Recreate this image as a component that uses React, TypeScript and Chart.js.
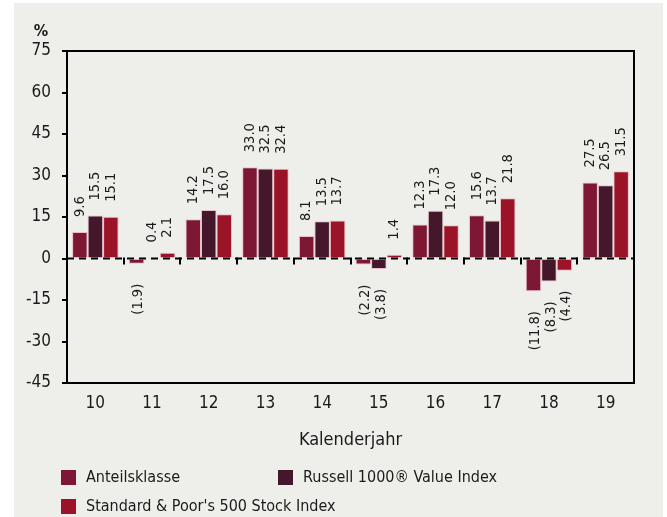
import React, { useEffect, useRef } from "react";
import { Chart, registerables } from "chart.js";

Chart.register(...registerables);

const categories = ["10", "11", "12", "13", "14", "15", "16", "17", "18", "19"];
const anteilsklasse = [9.6, -1.9, 14.2, 33.0, 8.1, -2.2, 12.3, 15.6, -11.8, 27.5];
const russell1000Value = [15.5, 0.4, 17.5, 32.5, 13.5, -3.8, 17.3, 13.7, -8.3, 26.5];
const sp500 = [15.1, 2.1, 16.0, 32.4, 13.7, 1.4, 12.0, 21.8, -4.4, 31.5];
const seriesNames = ["Anteilsklasse", "Russell 1000® Value Index", "Standard & Poor's 500 Stock Index"];
const seriesColors = ["#7D1733", "#45172B", "#9B1327"];
const yMin = -45;
const yMax = 75;
const yStep = 15;
const yUnit = "%";
const xTitle = "Kalenderjahr";

const FONT = "'Liberation Sans Narrow', 'Arial Narrow', 'DejaVu Sans Condensed', sans-serif";
const TEXT = "#1a1a1a";

const fmt = (v: number) => (v < 0 ? `(${Math.abs(v).toFixed(1)})` : v.toFixed(1));

const decorPlugin = {
  id: "decor",
  beforeDraw(chart: any) {
    const { ctx, width, height } = chart;
    ctx.save();
    ctx.fillStyle = "#ffffff";
    ctx.fillRect(0, 0, width, height);
    ctx.fillStyle = "#EEEEEA";
    ctx.fillRect(14, 3, 649, height - 3);
    ctx.restore();
  },
  afterDatasetsDraw(chart: any) {
    const { ctx, chartArea } = chart;
    const y = chart.scales.y;
    const zero = y.getPixelForValue(0);
    ctx.save();
    // zero dashed line
    ctx.strokeStyle = "#000";
    ctx.lineWidth = 2;
    ctx.setLineDash([7, 5]);
    ctx.beginPath();
    ctx.moveTo(chartArea.left, zero);
    ctx.lineTo(chartArea.right, zero);
    ctx.stroke();
    ctx.setLineDash([]);
    // category boundary ticks at zero
    const n = categories.length;
    const step = (chartArea.right - chartArea.left) / n;
    for (let i = 1; i < n; i++) {
      const px = Math.round(chartArea.left + step * i);
      ctx.beginPath();
      ctx.moveTo(px, zero - 1);
      ctx.lineTo(px, zero + 6);
      ctx.stroke();
    }
    // frame
    ctx.strokeRect(chartArea.left, chartArea.top, chartArea.right - chartArea.left, chartArea.bottom - chartArea.top);

    // value labels
    ctx.fillStyle = TEXT;
    ctx.font = `14.5px ${FONT}`;
    ctx.textBaseline = "middle";
    chart.data.datasets.forEach((ds: any, di: number) => {
      const meta = chart.getDatasetMeta(di);
      meta.data.forEach((bar: any, i: number) => {
        const v = ds.data[i];
        ctx.save();
        if (v >= 0) {
          ctx.translate(bar.x, bar.y - 15);
          ctx.rotate(-Math.PI / 2);
          ctx.textAlign = "left";
        } else {
          ctx.translate(bar.x + 2, bar.y + 20);
          ctx.rotate(-Math.PI / 2);
          ctx.textAlign = "right";
        }
        ctx.fillText(fmt(v), 0, 0);
        ctx.restore();
      });
    });

    // unit label
    ctx.font = `bold 16px ${FONT}`;
    ctx.textAlign = "center";
    ctx.textBaseline = "middle";
    ctx.fillText(yUnit, 41, 32);

    // axis title
    ctx.font = `18px ${FONT}`;
    ctx.fillText(xTitle, (chartArea.left + chartArea.right) / 2, 440);

    // legend
    const items = [
      { x: 61, y: 470 },
      { x: 278, y: 470 },
      { x: 61, y: 499 },
    ];
    ctx.font = `16px ${FONT}`;
    ctx.textAlign = "left";
    chart.data.datasets.forEach((ds: any, di: number) => {
      const it = items[di];
      ctx.fillStyle = ds.backgroundColor;
      ctx.fillRect(it.x, it.y, 15, 15);
      ctx.fillStyle = TEXT;
      ctx.fillText(ds.label, it.x + 25, it.y + 7.5);
    });
    ctx.restore();
  },
};

export default function App() {
  const ref = useRef<HTMLCanvasElement | null>(null);
  useEffect(() => {
    if (!ref.current) return;
    const seriesData = [anteilsklasse, russell1000Value, sp500];
    const chart = new Chart(ref.current, {
      type: "bar",
      data: {
        labels: categories,
        datasets: seriesData.map((d, i) => ({
          label: seriesNames[i],
          data: d,
          backgroundColor: seriesColors[i],
          borderColor: "rgba(230,180,190,0.8)",
          borderWidth: 1,
          categoryPercentage: 0.82,
          barPercentage: 1.0,
        })),
      },
      options: {
        responsive: false,
        animation: false,
        devicePixelRatio: 1,
        layout: { padding: { left: 0, top: 51, right: 33, bottom: 0 } },
        plugins: {
          legend: { display: false },
          tooltip: { enabled: false },
          title: { display: false },
        },
        scales: {
          x: {
            grid: { display: false, drawTicks: false },
            border: { display: false },
            ticks: { font: { family: FONT, size: 17 }, color: TEXT, padding: 10, maxRotation: 0 },
            afterFit: (s: any) => {
              s.height = 134;
            },
          },
          y: {
            min: yMin,
            max: yMax,
            ticks: { stepSize: yStep, font: { family: FONT, size: 17 }, color: TEXT, padding: 11 },
            grid: { drawOnChartArea: false, drawTicks: true, tickLength: 5, color: "#000", lineWidth: 2 },
            border: { display: false },
            afterFit: (s: any) => {
              s.width = 67;
            },
          },
        },
      },
      plugins: [decorPlugin],
    });
    return () => chart.destroy();
  }, []);
  return (
    <div style={{ position: "absolute", left: 0, top: 0, width: 667, height: 517 }}>
      <canvas ref={ref} width={667} height={517} style={{ width: 667, height: 517, display: "block" }} />
    </div>
  );
}
